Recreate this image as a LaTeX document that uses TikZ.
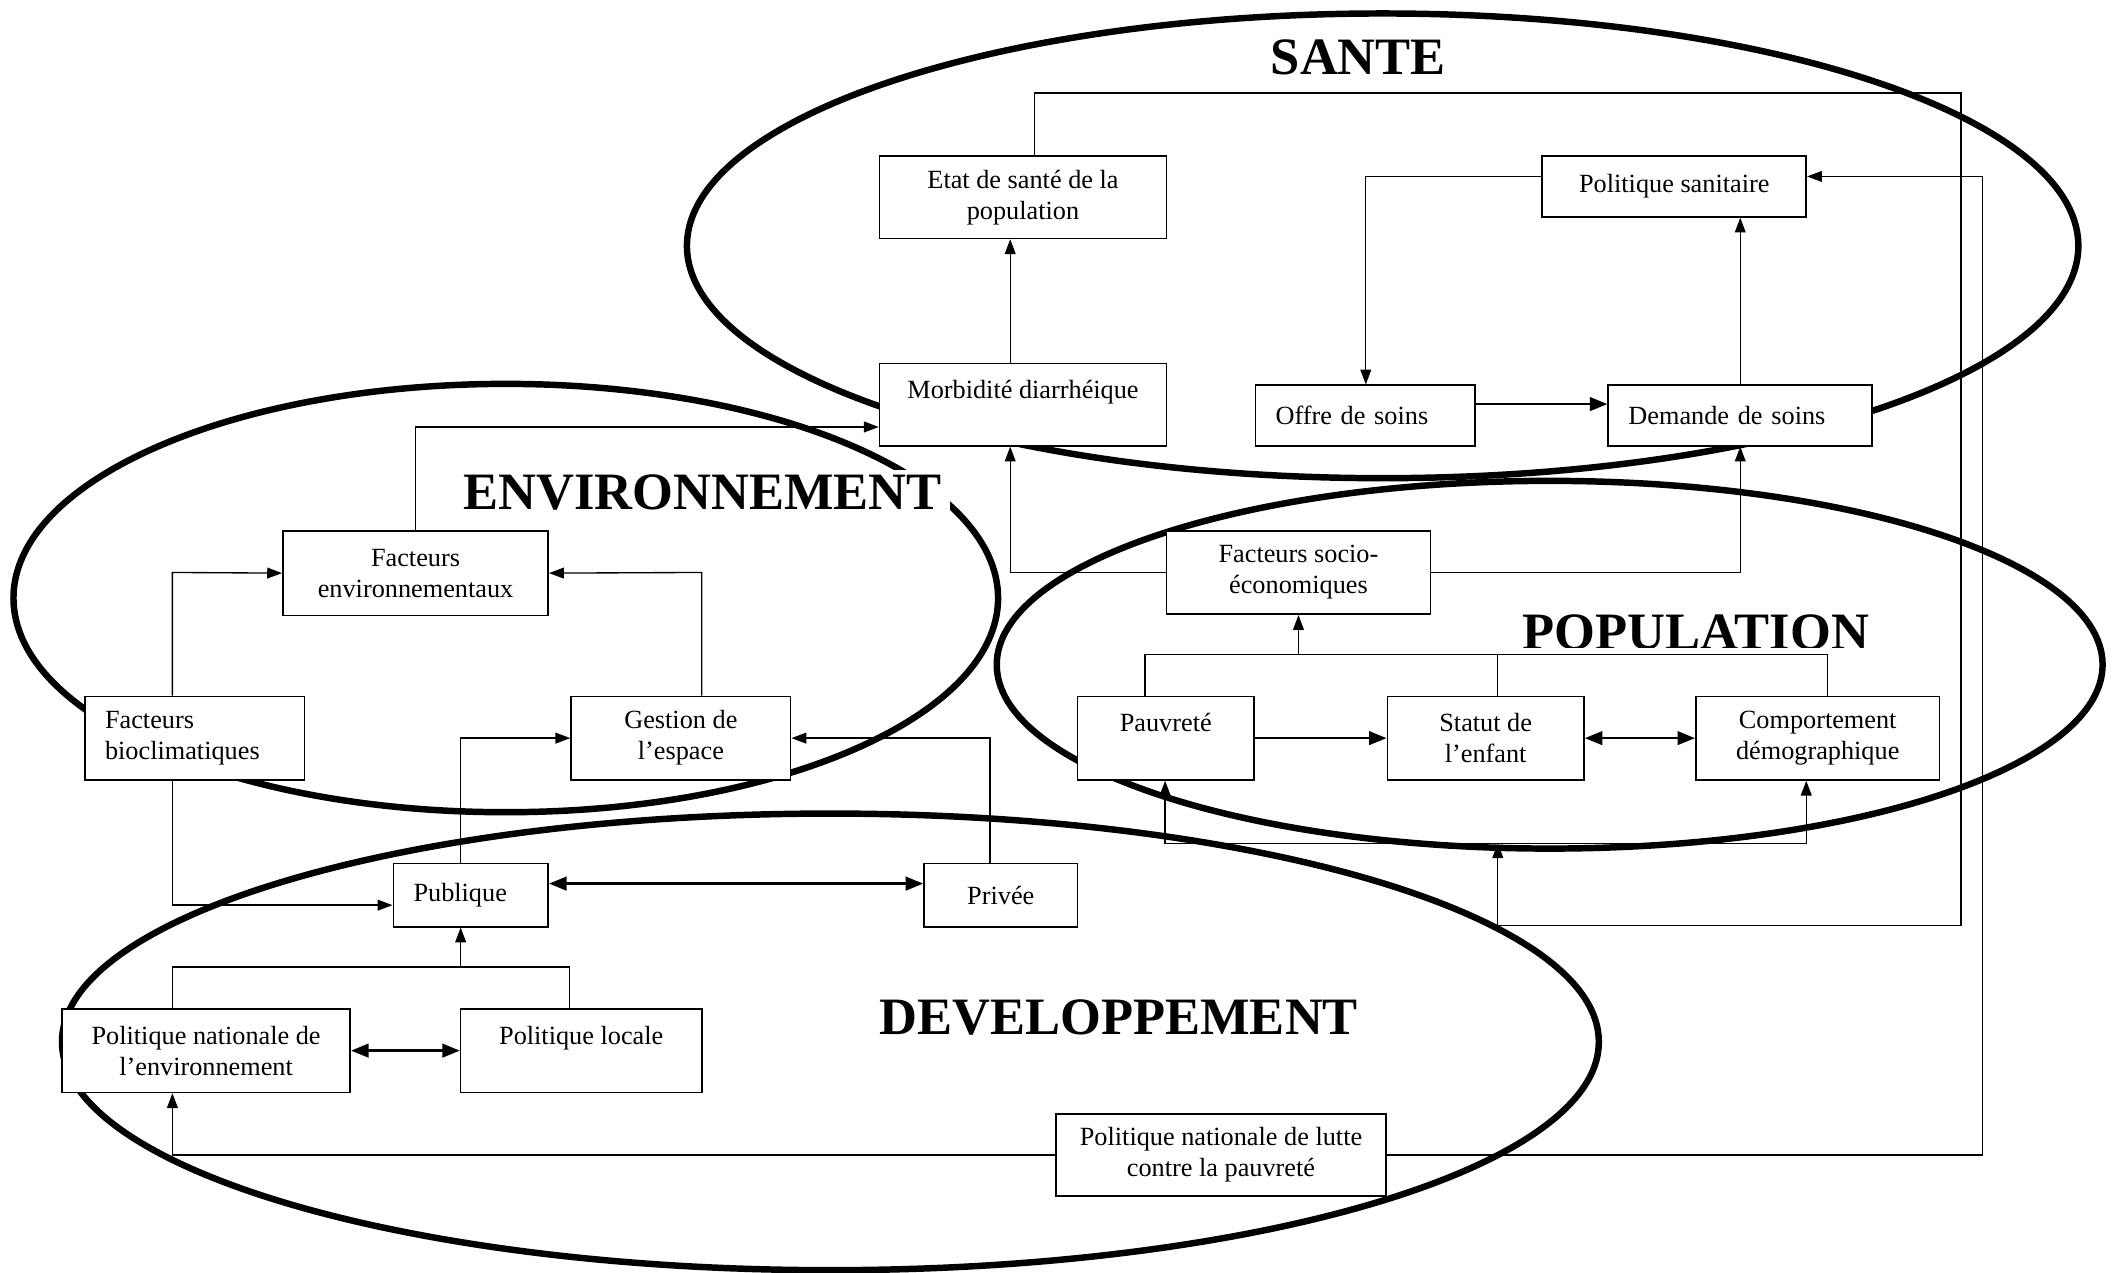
\documentclass[tikz,border=0pt]{standalone}
\usepackage{fontspec}
\setmainfont{Liberation Serif}
\usetikzlibrary{arrows.meta}
\begin{document}
\begin{tikzpicture}[x=1pt,y=-1pt,
  box/.style={draw, fill=white, line width=1.2pt, inner sep=0pt, align=center,
              font=\fontsize{19.5}{23}\selectfont},
  leftbox/.style={box, align=left},
  ttl/.style={font=\fontsize{39}{44}\selectfont\bfseries, fill=white,
              inner xsep=6pt, inner ysep=3pt, anchor=base},
  zone/.style={line width=4.8pt},
  con/.style={line width=1pt},
  thk/.style={line width=2pt},
  tip/.style={-{Triangle[length=11pt,width=8pt]}},
  tipb/.style={-{Triangle[length=13pt,width=10pt]}},
  tipboth/.style={{Triangle[length=13pt,width=10pt]}-{Triangle[length=13pt,width=10pt]}}
]
\useasboundingbox (0,0) rectangle (1568,945);
\fill[white] (0,0) rectangle (1568,945);

% zones
\draw[zone] (1026.5,182.5) ellipse [x radius=516.5pt, y radius=172.5pt];
\draw[zone] (375.5,444) ellipse [x radius=365.5pt, y radius=159pt];
\draw[zone] (1150.5,493.5) ellipse [x radius=410.5pt, y radius=136.5pt];
\draw[zone] (616.5,773.5) ellipse [x radius=570.5pt, y radius=169.5pt];

% titles
\node[ttl] (tsante) at (1008.5,55) {SANTE};
\node[ttl] (tenv) at (521.5,378) {ENVIRONNEMENT};
\begin{scope}
  \clip (1100,430) rectangle (1420,481);
  \node[ttl] (tpop) at (1259,482) {POPULATION};
\end{scope}
\node[ttl] (tdev) at (830.5,768) {DEVELOPPEMENT};

% boxes
\node[box, minimum width=213pt, minimum height=61pt] (etat) at (759.5,146.5) {Etat de santé de la\\population};
\node[box, minimum width=196pt, minimum height=45pt] (polsan) at (1243,138.5) {Politique sanitaire};
\node[box, minimum width=213pt, minimum height=61pt] (morb) at (759.5,300.5) {Morbidité diarrhéique\\\mbox{}};
\node[leftbox, minimum width=163pt, minimum height=45pt, text width=133pt] (offre) at (1013.5,308.5) {Offre de soins};
\node[leftbox, minimum width=196pt, minimum height=45pt, text width=166pt] (demande) at (1292,308.5) {Demande de soins};
\node[box, minimum width=197pt, minimum height=63pt] (facenv) at (308.5,425.5) {Facteurs\\environnementaux};
\node[box, minimum width=196pt, minimum height=62pt] (facsoc) at (964,425) {Facteurs socio-\\économiques};
\node[leftbox, minimum width=163pt, minimum height=62pt, text width=133pt] (bioclim) at (144.5,548) {Facteurs\\bioclimatiques};
\node[box, minimum width=163pt, minimum height=62pt] (gestion) at (505.5,548) {Gestion de\\l’espace};
\node[box, minimum width=131pt, minimum height=62pt] (pauv) at (865.5,548) {Pauvreté\\\mbox{}};
\node[box, minimum width=146pt, minimum height=62pt] (statut) at (1103,548) {Statut de\\l’enfant};
\node[box, minimum width=181pt, minimum height=62pt] (comport) at (1349.5,548) {Comportement\\démographique};
\node[leftbox, minimum width=115pt, minimum height=47pt, text width=85pt] (publique) at (349.5,664.5) {Publique};
\node[box, minimum width=114pt, minimum height=47pt] (privee) at (743,664.5) {Privée};
\node[box, minimum width=214pt, minimum height=62pt] (polenv) at (153,780) {Politique nationale de\\l’environnement};
\node[box, minimum width=179pt, minimum height=62pt] (polloc) at (431.5,780) {Politique locale\\\mbox{}};
\node[box, minimum width=245pt, minimum height=61pt] (pollutte) at (906.5,857.5) {Politique nationale de lutte\\contre la pauvreté};

% helper coordinates
\coordinate (busP) at (1112,626);
\coordinate (busS) at (964,486);
\coordinate (busD) at (342,718);

% connectors
\draw[con,tip] (768,0 |- etat.north) -- (768,69) -- (1456,69) -- (1456,687) -- (1112,687) -- (busP);
\draw[con,tip] (busP) -- (865,626) -- (865,0 |- pauv.south);
\draw[con,tip] (busP) -- (1341,626) -- (1341,0 |- comport.south);
\draw[con,tip] (750,0 |- morb.north) -- (750,0 |- etat.south);
\draw[con,tip] (308.5,0 |- facenv.north) -- (308.5,317) -- (morb.west |- 0,317);
\draw[con,tip] (facsoc.west) -- (750,425) -- (750,0 |- morb.south);
\draw[con,tip] (facsoc.east) -- (1292,425) -- (demande.south);
\draw[con,tip] (polsan.west |- 0,131) -- (1014,131) -- (1014,0 |- offre.north);
\draw[thk,tipb] (offre.east |- 0,300) -- (demande.west |- 0,300);
\draw[con,tip] (1292,0 |- demande.north) -- (1292,0 |- polsan.south);
\draw[con,tip] (pollutte.east) -- (1472,857.5) -- (1472,131) -- (polsan.east |- 0,131);
\draw[con,tip] (pollutte.west) -- (128,857.5) -- (128,0 |- polenv.south);
\draw[con] (850,0 |- pauv.north) -- (850,486) -- (1357,486) -- (1357,0 |- comport.north);
\draw[con] (1112,0 |- statut.north) -- (1112,486);
\draw[con,tip] (busS) -- (facsoc.south);
\draw[thk,tipb] (pauv.east) -- (statut.west);
\draw[thk,tipboth] (statut.east) -- (comport.west);
\draw[con,tip] (128,0 |- bioclim.north) -- (128,425) -- (facenv.west);
\draw[con,tip] (521,0 |- gestion.north) -- (521,425) -- (facenv.east);
\draw[con,tip] (128,0 |- bioclim.south) -- (128,672) -- (publique.west |- 0,672);
\draw[con,tip] (342,0 |- publique.north) -- (342,548) -- (gestion.west);
\draw[con,tip] (735,0 |- privee.north) -- (735,548) -- (gestion.east);
\draw[thk,tipboth] (publique.east |- 0,656) -- (privee.west |- 0,656);
\draw[con] (128,0 |- polenv.north) -- (128,718) -- (423,718) -- (423,0 |- polloc.north);
\draw[con,tip] (busD) -- (342,0 |- publique.south);
\draw[thk,tipboth] (polenv.east) -- (polloc.west);
\end{tikzpicture}
\end{document}
